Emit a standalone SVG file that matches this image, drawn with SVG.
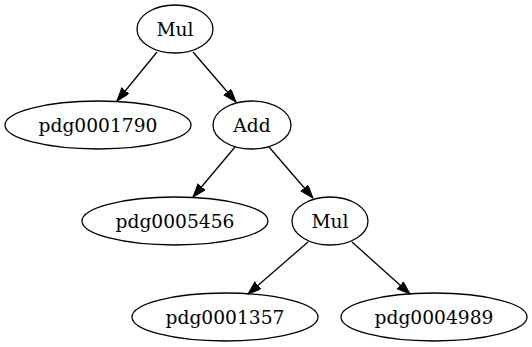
<svg xmlns="http://www.w3.org/2000/svg" width="532" height="347" viewBox="0 0 532 347">
<style>
.n ellipse{fill:none;stroke:#000;stroke-width:1.3}
.n text{font-family:"DejaVu Serif","Liberation Serif",serif;font-size:18.67px;text-anchor:middle;fill:#000}
.e line{stroke:#000;stroke-width:1.3;marker-end:url(#ah)}
</style>
<defs>
<marker id="ah" markerUnits="userSpaceOnUse" markerWidth="14" markerHeight="10" refX="13.3" refY="4.67" orient="auto">
<path d="M0,0 L13.3,4.67 L0,9.33 Z" fill="#000" stroke="#000" stroke-width="1"/>
</marker>
</defs>
<rect width="532" height="347" fill="#fff"/>
<g id="edges" class="e">
<line x1="157" y1="52" x2="117" y2="101"/>
<line x1="193" y1="52" x2="236" y2="102"/>
<line x1="235" y1="147" x2="193" y2="197"/>
<line x1="269" y1="147" x2="313" y2="198"/>
<line x1="308" y1="242" x2="248" y2="294"/>
<line x1="352" y1="242" x2="410" y2="294"/>
</g>
<g id="mul1" class="n"><ellipse cx="175" cy="29" rx="38" ry="24"/><text x="175" y="35.5">Mul</text></g>
<g id="pdg0001790" class="n"><ellipse cx="98" cy="125" rx="93" ry="24"/><text x="98" y="131.5">pdg0001790</text></g>
<g id="add" class="n"><ellipse cx="252" cy="125" rx="39" ry="24"/><text x="252" y="131.5">Add</text></g>
<g id="pdg0005456" class="n"><ellipse cx="175" cy="221" rx="93" ry="24"/><text x="175" y="227.5">pdg0005456</text></g>
<g id="mul2" class="n"><ellipse cx="330" cy="221" rx="38" ry="24"/><text x="330" y="227.5">Mul</text></g>
<g id="pdg0001357" class="n"><ellipse cx="225" cy="317" rx="93" ry="24"/><text x="225" y="323.5">pdg0001357</text></g>
<g id="pdg0004989" class="n"><ellipse cx="434" cy="317" rx="93" ry="24"/><text x="434" y="323.5">pdg0004989</text></g>
</svg>
